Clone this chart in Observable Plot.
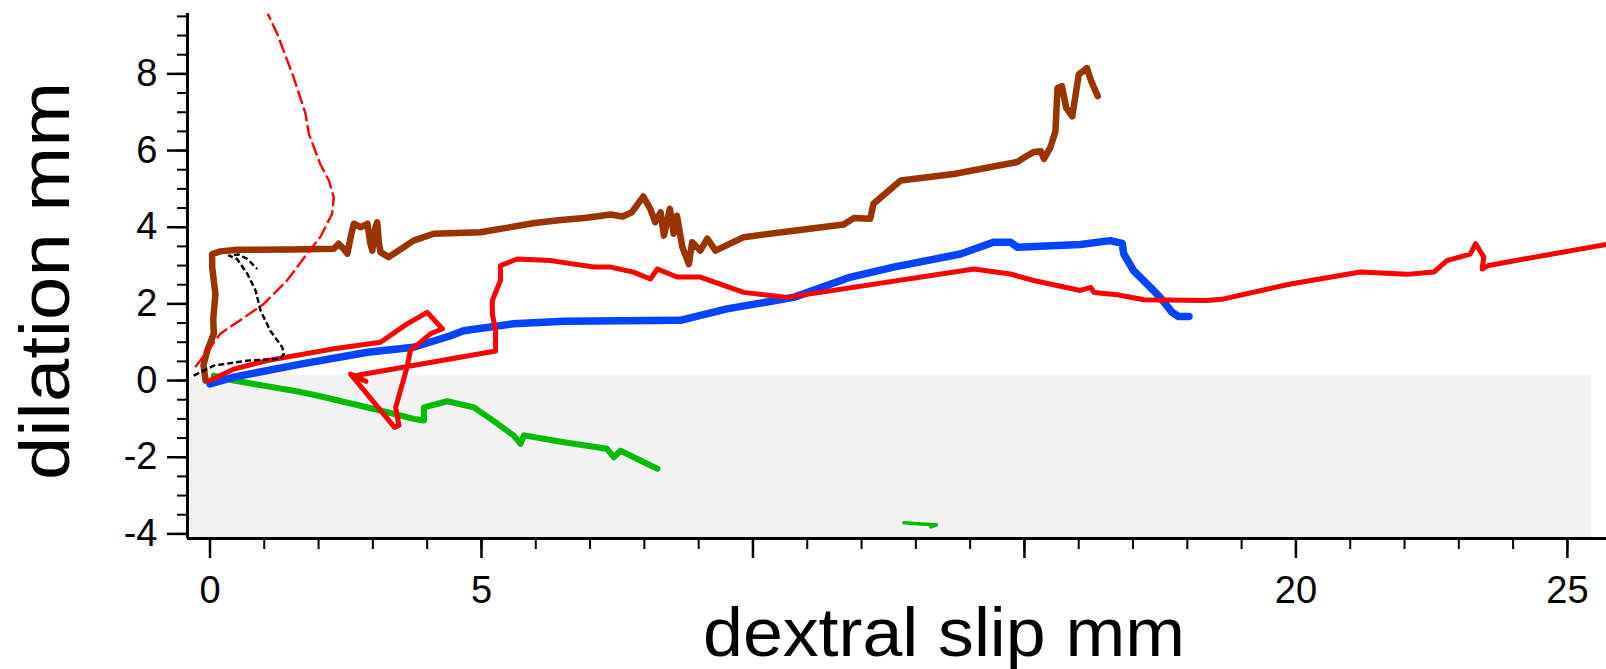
<!DOCTYPE html>
<html><head><meta charset="utf-8">
<script src="https://cdn.jsdelivr.net/npm/d3@7"></script>
<script src="https://cdn.jsdelivr.net/npm/@observablehq/plot@0.6"></script>
<style>
html,body{margin:0;padding:0;background:#fff;}
#chart{width:1606px;height:669px;overflow:hidden}
</style></head><body><div id="chart"></div>
<script>
// ---- data (dextral slip mm, dilation mm) ----
const brownX = [-0.08,-0.12,-0.05,0.07,0.06,0.10,0.04,0.04,0.19,0.50,1.50,2.28,2.37,2.45,2.53,2.60,2.65,2.78,2.90,2.95,2.99,3.03,3.08,3.11,3.14,3.29,3.75,4.12,4.98,5.98,6.46,6.90,7.38,7.60,7.77,7.98,8.11,8.20,8.30,8.36,8.47,8.54,8.60,8.70,8.82,8.88,9.03,9.16,9.31,9.83,10.75,11.67,11.86,12.16,12.22,12.72,13.70,14.87,15.03,15.17,15.30,15.36,15.48,15.57,15.61,15.69,15.77,15.88,16.00,16.15,16.23,16.35];
const brownY = [0.00,0.40,0.78,1.22,1.60,2.26,2.96,3.30,3.37,3.41,3.42,3.44,3.57,3.45,3.31,3.80,4.09,4.00,4.09,3.60,3.39,3.90,4.13,3.60,3.35,3.22,3.65,3.83,3.87,4.11,4.19,4.24,4.33,4.28,4.39,4.80,4.48,4.13,4.39,3.78,4.48,3.83,4.30,3.48,3.04,3.61,3.39,3.70,3.39,3.74,3.91,4.07,4.24,4.22,4.61,5.22,5.39,5.70,5.85,5.96,5.98,5.78,6.09,6.50,7.63,7.68,7.11,6.89,7.98,8.15,7.81,7.42];

const blueX = [0.00,0.44,1.67,2.90,3.75,4.43,4.67,5.59,6.52,8.66,9.52,10.75,11.80,12.59,13.82,14.43,14.74,14.87,16.03,16.58,16.80,16.83,17.01,17.32,17.50,17.72,17.84,18.03];
const blueY = [-0.09,0.09,0.43,0.74,0.87,1.17,1.30,1.48,1.55,1.57,1.87,2.17,2.70,2.96,3.30,3.61,3.61,3.48,3.55,3.65,3.58,3.30,2.87,2.43,2.17,1.78,1.67,1.67];

const redX = [0.00,0.44,1.05,2.28,3.14,3.63,4.00,4.28,4.06,3.69,3.63,3.42,3.48,3.40,2.59,2.87,2.64,5.26,5.26,5.20,5.20,5.35,5.35,5.66,6.27,6.46,7.07,7.38,7.80,8.11,8.24,8.60,9.03,9.83,10.63,14.07,14.74,15.17,16.03,16.22,16.28,16.71,17.20,18.36,18.67,19.90,21.19,22.05,22.54,22.78,23.21,23.31,23.46,23.43,23.55,24.20,25.72];
const redY = [0.00,0.30,0.52,0.83,1.00,1.48,1.78,1.35,1.22,0.78,0.35,-0.70,-1.17,-1.22,0.17,-0.02,0.12,0.77,1.30,1.74,2.09,2.61,3.00,3.17,3.13,3.09,2.96,2.96,2.83,2.65,2.91,2.70,2.70,2.30,2.17,2.91,2.78,2.61,2.35,2.43,2.30,2.24,2.11,2.09,2.13,2.52,2.83,2.77,2.83,3.13,3.30,3.57,3.22,2.91,3.00,3.17,3.55];

const greenX = [0.07,0.44,1.67,1.97,3.14,3.75,3.94,3.94,4.37,4.86,5.17,5.59,5.72,5.78,6.52,7.31,7.44,7.56,8.24];
const greenY = [0.13,0.00,-0.30,-0.39,-0.78,-1.00,-1.04,-0.70,-0.54,-0.70,-1.00,-1.43,-1.65,-1.43,-1.61,-1.78,-2.00,-1.83,-2.30];

const greenBitX = [12.78,13.10,13.38,13.28];
const greenBitY = [-3.71,-3.74,-3.76,-3.82];

const redDashX = [-0.27,0.19,0.50,0.99,1.42,1.79,2.03,2.25,2.28,2.19,2.03,1.82,1.76,1.54,1.24,1.065];
const redDashY = [0.35,1.22,1.52,2.00,2.61,3.31,3.74,4.35,4.78,5.22,5.65,6.44,6.96,7.91,9.04,9.57];

const blackDashX = [-0.30,0.07,0.69,1.30,1.36,1.33,1.11,0.93,0.84,0.69,0.50,0.35,0.53,0.69,0.87];
const blackDashY = [0.13,0.39,0.52,0.57,0.70,0.87,1.30,1.83,2.35,2.78,3.17,3.26,3.29,3.17,2.91];

// shaded band (negative dilation)
const bandX = [-0.414, 25.45];
const bandY = [-4.12, 0.13];

const xDomain = [-0.414, 25.72];
const yDomain = [-4.12, 9.575];
const xMajorTicks = [0, 5, 10, 15, 20, 25];
const xTickLabels = [0, 5, 20, 25];
const xMinorTicks = d3.range(0, 26, 1);
const yMajorTicks = [-4, -2, 0, 2, 4, 6, 8];
const yMinorTicks = d3.range(-4, 9.51, 0.5);
const xLabel = "dextral slip mm";
const yLabel = "dilation mm";

const rows = (xs, ys) => xs.map((x, i) => ({x, y: ys[i]}));
const lineOpts = (stroke, w, extra = {}) => Object.assign({x: "x", y: "y", stroke, strokeWidth: w, strokeLinejoin: "round", strokeLinecap: "round", clip: true}, extra);

const plot = Plot.plot({
  width: 1606, height: 669,
  marginLeft: 187, marginRight: 0, marginTop: 13, marginBottom: 131,
  style: {fontFamily: "'Liberation Sans', Arial, sans-serif", background: "#fff", color: "#000"},
  x: {domain: xDomain, label: null},
  y: {domain: yDomain, label: null},
  marks: [
    Plot.rect([0], {x1: () => bandX[0], x2: () => bandX[1], y1: () => bandY[0], y2: () => bandY[1], fill: "#f2f2f2"}),
    Plot.line(rows(greenX, greenY), lineOpts("#00bb00", 6)),
    Plot.line(rows(greenBitX, greenBitY), lineOpts("#00bb00", 3.5)),
    Plot.line(rows(blueX, blueY), lineOpts("#0044ff", 7.5)),
    Plot.line(rows(brownX, brownY), lineOpts("#993300", 6.5)),
    Plot.line(rows(redX, redY), lineOpts("#ff0000", 5)),
    Plot.line(rows(redDashX, redDashY), lineOpts("#ff0000", 2.4, {strokeDasharray: "14,4", strokeLinecap: "butt"})),
    Plot.line(rows(blackDashX, blackDashY), lineOpts("#000000", 2.4, {strokeDasharray: "6,3", strokeLinecap: "butt"})),
    // axis lines
    Plot.ruleX([xDomain[0]], {stroke: "#000", strokeWidth: 3}),
    Plot.ruleY([yDomain[0]], {stroke: "#000", strokeWidth: 3}),
    // x ticks
    Plot.axisX(xMinorTicks, {tickSize: 11, tickFormat: () => "", strokeWidth: 2, label: null}),
    Plot.axisX(xMajorTicks, {tickSize: 20, tickPadding: 18, fontSize: 38, strokeWidth: 2.5, label: null,
      tickFormat: d => xTickLabels.includes(d) ? String(d) : ""}),
    // y ticks
    Plot.axisY(yMinorTicks, {tickSize: 10, tickFormat: () => "", strokeWidth: 2, label: null}),
    Plot.axisY(yMajorTicks, {tickSize: 20, tickPadding: 10, fontSize: 38, strokeWidth: 2.5, label: null,
      tickFormat: d => String(d)}),
    // axis titles
    Plot.text([xLabel], {text: d => d, frameAnchor: "bottom", textAnchor: "middle", dx: 47, dy: 117, fontSize: 68, lineAnchor: "bottom", fill: "#000"}),
    Plot.text([yLabel], {text: d => d, frameAnchor: "left", textAnchor: "middle", rotate: -90, dx: -119, dy: 5, fontSize: 70, lineAnchor: "bottom", fill: "#000"})
  ]
});
document.getElementById("chart").appendChild(plot);
plot.querySelectorAll("text").forEach(t => {
  if (t.textContent === xLabel) { t.setAttribute("textLength", 482); t.setAttribute("lengthAdjust", "spacingAndGlyphs"); }
  if (t.textContent === yLabel) { t.setAttribute("textLength", 398); t.setAttribute("lengthAdjust", "spacingAndGlyphs"); }
});
</script></body></html>
